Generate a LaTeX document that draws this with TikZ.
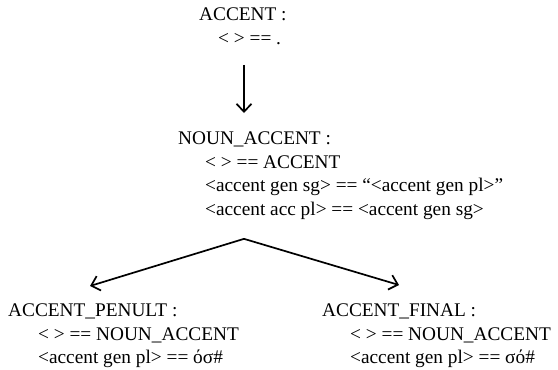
\documentclass[tikz,border=0pt]{standalone}
\usepackage{fontspec}
\setmainfont{Liberation Serif}
\usetikzlibrary{arrows.meta}

\tikzset{
  rule/.style={anchor=north west,inner sep=0pt,align=left,
    font=\fontsize{19.3}{23.5}\selectfont},
  arr/.style={line width=1.7pt,-{Straight Barb[length=8pt,width=15pt,line width=1.7pt]}}
}

\begin{document}
\begin{tikzpicture}[x=1pt,y=-1pt]

  \useasboundingbox (0,0) rectangle (558,370);

  \node[rule] (accent) at (199,8)
    {ACCENT :\\ \hspace*{19pt}< > == .};

  \node[rule] (noun) at (178,132)
    {NOUN\_ACCENT :\\
     \hspace*{27pt}< > == ACCENT\\
     \hspace*{27pt}<accent gen sg> == “<accent gen pl>”\\
     \hspace*{27pt}<accent acc pl> == <accent gen sg>};

  \node[rule] (penult) at (8,304)
    {ACCENT\_PENULT :\\
     \hspace*{30pt}< > == NOUN\_ACCENT\\
     \hspace*{30pt}<accent gen pl> == όσ\#};

  \node[rule] (final) at (322,304)
    {ACCENT\_FINAL :\\
     \hspace*{28pt}< > == NOUN\_ACCENT\\
     \hspace*{28pt}<accent gen pl> == σό\#};

  \coordinate (apex) at ([xshift=66pt,yshift=-19pt]noun.south west);

  \draw[arr] ([xshift=45pt,yshift=-20pt]accent.south west)
    -- ([xshift=66pt,yshift=19pt]noun.north west);
  \draw[arr] (apex) -- ([xshift=82pt,yshift=18pt]penult.north west);
  \draw[arr] (apex) -- ([xshift=77pt,yshift=19pt]final.north west);

\end{tikzpicture}
\end{document}
